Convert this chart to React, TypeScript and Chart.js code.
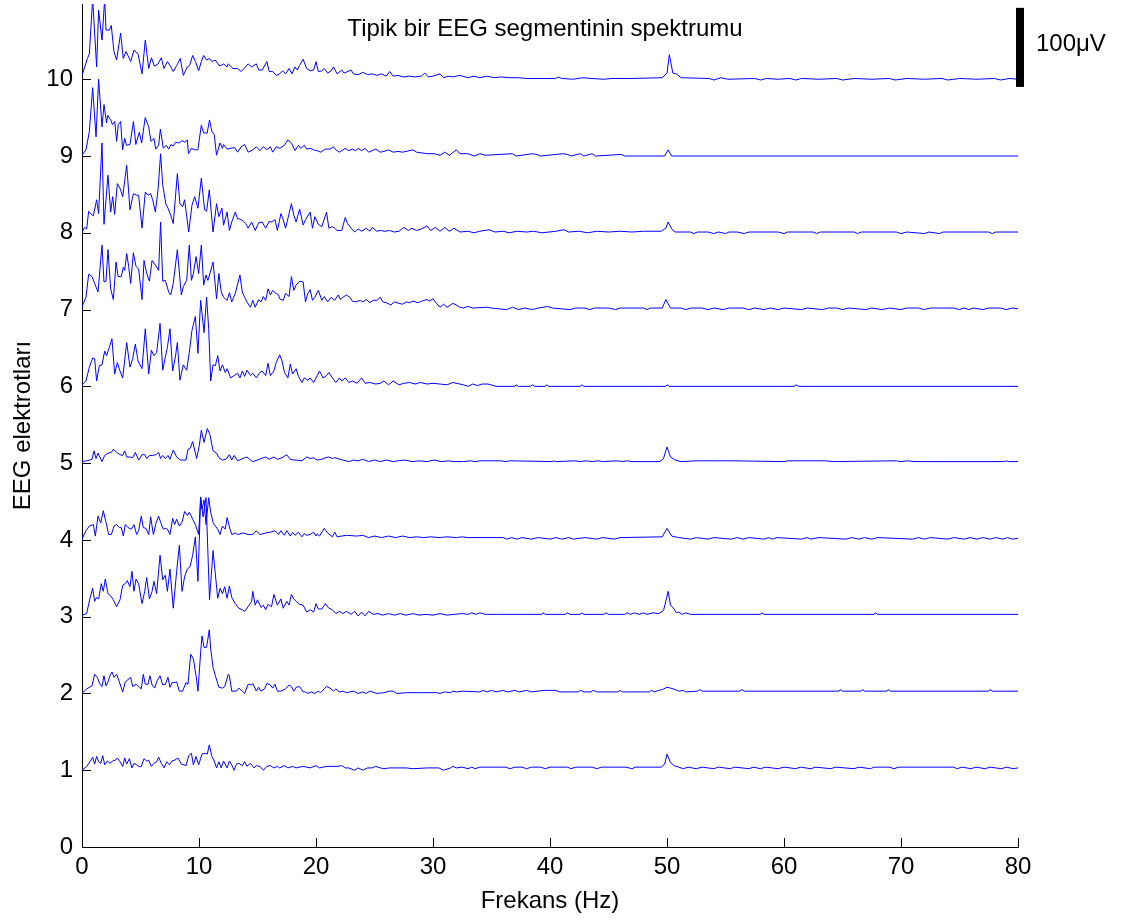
import React, { useEffect, useRef } from "react";
import { Chart, registerables } from "chart.js";

Chart.register(...registerables);

// ---------- texts ----------
const TITLE = "Tipik bir EEG segmentinin spektrumu";
const X_TITLE = "Frekans (Hz)";
const Y_TITLE = "EEG elektrotları";
const SCALE_LABEL = "100μV";

// ---------- axes ----------
const X_MIN = 0;
const X_MAX = 80;
const X_STEP = 10;
const Y_MIN = 0;
const Y_MAX = 10.98;
const Y_STEP = 1;
// scale bar (100 µV) in y-axis units
const SCALE_BAR_BOTTOM = 9.9;
const SCALE_BAR_TOP = 10.93;

// ---------- spectra: [frequency Hz, amplitude above the channel's baseline] ----------
const ch1: number[][] = [
  [0,0],[0.4,0.05],[0.68,0.11],[0.91,0.17],[1.08,0.08],[1.25,0.18],[1.42,0.11],[1.6,0.09],[1.77,0.19],[1.94,0.07],
  [2.17,0.12],[2.39,0.09],[2.62,0.12],[2.85,0.13],[3.02,0.16],[3.25,0.11],[3.48,0.05],[3.65,0.16],[3.82,0.08],[4.05,0.15],
  [4.27,0.03],[4.44,0.09],[4.67,0.07],[4.84,0.05],[5.07,0.05],[5.3,0.15],[5.53,0.12],[5.7,0.13],[5.93,0.05],[6.15,0.09],
  [6.38,0.11],[6.55,0.17],[6.78,0.09],[7.01,0.03],[7.24,0.11],[7.47,0.07],[7.69,0.12],[7.92,0.13],[8.2,0.16],[8.49,0.08],
  [8.72,0.07],[8.89,0.06],[9.12,0.19],[9.35,0.22],[9.52,0.07],[9.75,0.18],[9.97,0.07],[10.26,0.21],[10.54,0.22],[10.71,0.21],
  [10.88,0.33],[11.1,0.18],[11.3,0.12],[11.5,0.03],[11.7,0.11],[11.9,0.03],[12.1,0.12],[12.4,0.03],[12.6,0.12],[12.8,0.07],
  [13.0,0],[13.2,0.08],[13.4,0.09],[13.7,0.06],[13.9,0.11],[14.1,0.05],[14.4,0.09],[14.7,0.03],[14.9,0.06],[15.2,0.05],
  [15.5,0],[15.8,0.05],[16.1,0.06],[16.4,0.03],[16.7,0.05],[16.9,0.03],[17.3,0.06],[17.6,0.03],[18.0,0.05],[18.3,0.03],
  [18.9,0.05],[19.5,0.03],[20.0,0.06],[20.3,0.03],[20.9,0.05],[21.8,0.05],[22.2,0.06],[22.5,0.03],[22.8,0.03],[23.3,0],
  [23.6,0.03],[24.0,0],[24.4,0.03],[24.8,0.03],[25.1,0.05],[25.5,0.03],[25.8,0.02],[26.3,0.03],[26.7,0.03],[27.2,0.03],
  [27.7,0.03],[28.3,0.02],[29.5,0.03],[30.0,0.03],[30.5,0.03],[30.9,0],[31.5,0.03],[31.7,0.05],[32.0,0.03],
  [32.5,0.04],[33.0,0.02],[33.3,0.04],[33.6,0.02],[34.0,0.04],[36.2,0.04],[36.6,0.02],[37.0,0.04],[37.6,0.04],[38.0,0.02],
  [38.4,0.04],[39.2,0.04],[39.6,0.02],[40.0,0.04],[41.5,0.04],[41.8,0.02],[42.2,0.04],[43.6,0.04],[44.0,0.02],[44.4,0.04],
  [46.5,0.04],[47.0,0.02],[47.3,0.04],[49.5,0.04],[49.8,0.08],[50.0,0.21],[50.3,0.1],[50.6,0.06],[51.0,0.04],[51.4,0.02],
  [51.8,0.04],[52.5,0.02],[53.0,0.04],[54.0,0.02],[54.4,0.04],[55.4,0.02],[55.8,0.04],[57.0,0.02],[57.4,0.04],[58.0,0.02],
  [58.4,0.04],[59.5,0.02],[60.0,0.04],[61.0,0.02],[61.4,0.04],[62.3,0.02],[62.7,0.04],[64.0,0.02],[64.4,0.04],[66.0,0.02],
  [66.4,0.04],[67.4,0.02],[67.7,0.04],[69.0,0.04],[69.4,0.02],[69.8,0.04],[72.0,0.04],[74.5,0.04],[74.8,0.02],[75.2,0.04],
  [76.0,0.02],[76.4,0.04],[77.2,0.02],[77.6,0.04],[78.6,0.02],[79.0,0.04],[79.6,0.02],[80,0.03]
];

const ch2: number[][] = [
  [0,0],[0.4,0.06],[0.86,0.1],[1.08,0.25],[1.31,0.21],[1.54,0.12],[1.71,0.09],[1.88,0.23],[2.05,0.1],[2.22,0.15],
  [2.39,0.23],[2.56,0.28],[2.74,0.21],[2.96,0.25],[3.19,0.15],[3.48,0.02],[3.7,0.15],[3.93,0.18],[4.16,0.21],[4.33,0.09],
  [4.62,0.12],[4.84,0.09],[5.07,0.06],[5.24,0.25],[5.41,0.12],[5.64,0.12],[5.81,0.23],[5.99,0.11],[6.21,0.07],[6.44,0.17],
  [6.67,0.23],[6.9,0.11],[7.12,0.12],[7.35,0.21],[7.52,0.08],[7.69,0.14],[7.87,0.14],[8.09,0.15],[8.32,0.03],[8.6,0.03],
  [8.89,0.14],[9.06,0.12],[9.29,0.51],[9.52,0.45],[9.75,0.23],[9.91,0.03],[10.14,0.53],[10.26,0.75],[10.43,0.6],[10.65,0.6],
  [10.88,0.83],[11.0,0.58],[11.2,0.34],[11.4,0.23],[11.7,0.08],[12.0,0.07],[12.2,0.09],[12.5,0.25],[12.6,0.23],[12.8,0.03],
  [13.2,0.03],[13.4,0.07],[13.7,0.03],[13.9,0],[14.2,0.12],[14.5,0.11],[14.6,0.13],[14.9,0.03],[15.1,0.08],[15.3,0.03],
  [15.6,0.06],[15.8,0.13],[16.1,0.11],[16.3,0.07],[16.5,0.12],[16.7,0.03],[17.0,0.03],[17.4,0.06],[17.7,0.11],[17.9,0.09],
  [18.1,0.03],[18.3,0.08],[18.6,0.09],[18.9,0.02],[19.1,0.02],[19.3,0],[19.6,0.02],[19.9,0],[20.2,0.03],[20.4,0.01],
  [20.7,0.06],[20.9,0.09],[21.2,0.07],[21.5,0.03],[21.7,0.06],[22.0,0.02],[22.3,0.03],[22.6,0.01],[23.2,0.03],[23.6,0],
  [24.0,0.02],[24.3,0],[24.6,0.03],[25.2,0],[25.8,0.01],[26.3,0.03],[26.6,0.03],[26.9,0],[27.8,0.01],[28.9,0.01],
  [30.3,0.01],[30.6,0],[31.0,0.02],[31.5,0.01],[31.7,0.03],[32.0,0.02],
  [32.5,0.03],[34.0,0.02],[34.3,0.04],[34.6,0.02],[35.0,0.04],[35.4,0.02],[36.0,0.04],[36.4,0.02],[37.0,0.04],[37.4,0.02],
  [38.0,0.04],[38.4,0.02],[39.5,0.04],[40.5,0.04],[40.8,0.02],[41.3,0.02],[42.4,0.02],[42.6,0.04],[42.9,0.02],[43.5,0.02],
  [43.7,0.04],[44.0,0.02],[45.8,0.02],[46.0,0.04],[46.2,0.02],[48.5,0.02],[48.7,0.04],[48.9,0.02],[49.3,0.04],[49.6,0.05],
  [50.0,0.08],[50.3,0.07],[50.7,0.05],[51.0,0.03],[51.4,0.04],[51.6,0.02],[52.6,0.03],[52.8,0.05],[53.0,0.03],[56.2,0.03],
  [56.4,0.05],[56.6,0.03],[64.7,0.03],[64.8,0.05],[65.0,0.03],[66.6,0.03],[66.7,0.05],[66.9,0.03],[68.8,0.03],[68.9,0.05],
  [69.1,0.03],[77.5,0.03],[77.6,0.05],[77.8,0.03],[80,0.03]
];

const ch3: number[][] = [
  [0,0.02],[0.4,0.04],[0.68,0.24],[0.91,0.37],[1.08,0.2],[1.25,0.25],[1.42,0.23],[1.65,0.43],[1.82,0.33],[1.99,0.49],
  [2.22,0.3],[2.45,0.27],[2.68,0.22],[2.96,0.13],[3.25,0.22],[3.48,0.41],[3.7,0.43],[3.87,0.47],[4.1,0.39],[4.27,0.59],
  [4.44,0.33],[4.62,0.49],[4.84,0.43],[5.13,0.17],[5.36,0.33],[5.53,0.51],[5.76,0.23],[5.99,0.33],[6.15,0.46],[6.38,0.3],
  [6.67,0.8],[6.9,0.48],[7.12,0.54],[7.3,0.33],[7.52,0.62],[7.8,0.11],[8.09,0.59],[8.32,0.93],[8.55,0.33],[8.77,0.52],
  [9.0,0.62],[9.23,0.65],[9.46,0.8],[9.69,1.04],[9.91,0.46],[10.14,1.55],[10.35,1.3],[10.6,1.55],[10.9,0.22],[11.2,0.86],
  [11.6,0.24],[11.8,0.37],[12.0,0.3],[12.2,0.39],[12.4,0.24],[12.6,0.4],[12.8,0.25],[13.1,0.17],[13.4,0.11],[13.7,0.09],
  [13.9,0.07],[14.2,0.13],[14.5,0.2],[14.6,0.33],[14.8,0.15],[15.0,0.22],[15.3,0.12],[15.5,0.15],[15.7,0.09],[15.9,0.16],
  [16.2,0.13],[16.4,0.29],[16.7,0.15],[17.0,0.23],[17.2,0.11],[17.5,0.2],[17.7,0.15],[17.9,0.29],[18.1,0.23],[18.3,0.2],
  [18.6,0.16],[18.9,0.15],[19.2,0.06],[19.5,0.09],[19.8,0.06],[20.0,0.17],[20.2,0.1],[20.5,0.1],[20.8,0.17],[21.1,0.11],
  [21.4,0.09],[21.7,0.04],[22.0,0.07],[22.3,0.04],[22.6,0.07],[23.0,0.03],[23.3,0.07],[23.6,0.01],[23.9,0.06],[24.2,0.01],
  [24.5,0.07],[24.9,0.03],[25.3,0.04],[25.7,0.02],[26.2,0.04],[26.7,0.02],[27.2,0.04],[27.7,0.02],[28.3,0.04],[28.8,0.02],
  [29.4,0.03],[30.0,0.02],[30.6,0.04],[31.2,0.02],[31.8,0.03],
  [32.5,0.04],[33.0,0.03],[33.3,0.05],[33.7,0.03],[34.0,0.05],[34.5,0.03],[35.5,0.03],[39.3,0.03],[39.4,0.05],[39.6,0.03],
  [41.3,0.03],[41.5,0.05],[41.7,0.03],[42.6,0.03],[42.7,0.05],[42.9,0.03],[44.6,0.03],[44.8,0.05],[45.0,0.03],[46.4,0.03],
  [46.6,0.05],[46.9,0.03],[47.2,0.05],[47.6,0.03],[48.0,0.05],[48.3,0.03],[48.8,0.05],[49.3,0.04],[49.7,0.08],[49.9,0.2],
  [50.1,0.33],[50.3,0.15],[50.6,0.1],[50.8,0.05],[51.0,0.06],[51.3,0.03],[51.6,0.05],[52.0,0.03],[58.0,0.03],[58.1,0.05],
  [58.3,0.03],[67.7,0.03],[67.8,0.05],[68.0,0.03],[80,0.03]
];

const ch4: number[][] = [
  [0,0.01],[0.34,0.12],[0.63,0.18],[0.97,0.2],[1.14,0.05],[1.37,0.31],[1.6,0.22],[1.82,0.38],[2.05,0.23],[2.28,0.07],
  [2.51,0.07],[2.74,0.18],[2.96,0.2],[3.19,0.16],[3.36,0.16],[3.53,0.05],[3.7,0.2],[3.93,0.16],[4.22,0.14],[4.44,0.2],
  [4.67,0.07],[4.84,0.12],[5.07,0.31],[5.24,0.16],[5.47,0.15],[5.7,0.07],[5.87,0.3],[6.1,0.07],[6.33,0.22],[6.55,0.31],
  [6.72,0.23],[6.95,0.14],[7.12,0.15],[7.3,0.14],[7.52,0.07],[7.75,0.28],[7.92,0.2],[8.09,0.27],[8.32,0.18],[8.55,0.23],
  [8.77,0.37],[9.0,0.32],[9.17,0.36],[9.46,0.27],[9.69,0.2],[9.97,0.07],[10.14,0.56],[10.26,0.4],[10.43,0.52],[10.6,0.2],
  [10.83,0.55],[11.0,0.36],[11.2,0.23],[11.3,0.2],[11.6,0.14],[11.8,0.07],[12.0,0.18],[12.25,0.14],[12.4,0.29],[12.65,0.14],
  [12.8,0.07],[13.1,0.09],[13.3,0.07],[13.8,0.09],[14.2,0.07],[14.6,0.07],[14.9,0.12],[15.2,0.07],[15.7,0.09],[16.1,0.1],
  [16.5,0.12],[16.8,0.07],[17.0,0.12],[17.3,0.06],[17.5,0.12],[17.8,0.05],[18.0,0.1],[18.2,0.06],[18.5,0.1],[18.8,0.04],
  [19.0,0.08],[19.2,0.06],[19.5,0.07],[19.8,0.1],[20.0,0.05],[20.1,0.08],[20.3,0.05],[20.7,0.15],[21.0,0.09],[21.4,0.04],
  [21.6,0.1],[21.8,0.04],[22.6,0.06],[23.5,0.05],[24.0,0.06],[24.5,0.03],[25.0,0.05],[25.6,0.03],[26.2,0.05],[26.8,0.03],
  [27.4,0.05],[28.0,0.03],[28.6,0.04],[29.2,0.03],[29.8,0.04],[30.5,0.03],[31.2,0.04],[32.0,0.03],
  [32.5,0.04],[33.0,0.03],[36.0,0.03],[36.3,0.01],[36.7,0.03],[37.2,0.01],[37.6,0.03],[38.4,0.01],[39.0,0.03],[40.0,0.01],
  [40.5,0.03],[41.0,0.01],[41.6,0.03],[42.0,0.01],[43.0,0.03],[44.0,0.01],[44.5,0.03],[45.5,0.01],[46.0,0.03],[49.6,0.04],
  [50.0,0.15],[50.4,0.05],[51.0,0.03],[52.0,0.01],[52.5,0.03],[53.5,0.01],[54.0,0.03],[55.5,0.01],[56.0,0.03],[56.5,0.01],
  [57.0,0.03],[58.3,0.01],[58.7,0.03],[59.0,0.01],[59.4,0.03],[61.5,0.01],[62.0,0.03],[62.3,0.01],[63.0,0.03],[65.3,0.01],
  [65.8,0.03],[66.4,0.01],[66.9,0.03],[67.5,0.01],[68.0,0.03],[71.0,0.01],[71.5,0.03],[72.0,0.01],[72.5,0.03],[74.0,0.01],
  [74.5,0.03],[75.4,0.01],[75.9,0.03],[76.5,0.01],[77.0,0.03],[77.6,0.01],[78.1,0.03],[78.7,0.01],[79.1,0.03],[79.5,0.01],[80,0.02]
];

const ch5: number[][] = [
  [0,0.02],[0.4,0.03],[0.63,0.04],[0.86,0.05],[1.03,0.16],[1.2,0.06],[1.37,0.13],[1.71,0.02],[1.94,0.1],[2.22,0.13],
  [2.51,0.14],[2.68,0.18],[2.96,0.14],[3.25,0.11],[3.48,0.1],[3.65,0.16],[3.82,0.08],[4.1,0.08],[4.33,0.07],[4.56,0.14],
  [4.84,0.04],[5.13,0.11],[5.36,0.11],[5.53,0.06],[5.76,0.1],[6.04,0.1],[6.33,0.11],[6.55,0.14],[6.72,0.06],[6.9,0.1],
  [7.12,0.06],[7.35,0.1],[7.52,0.05],[7.8,0.17],[8.09,0.08],[8.43,0.04],[8.89,0.04],[9.06,0.18],[9.23,0.19],[9.46,0.28],
  [9.8,0.06],[10.03,0.23],[10.2,0.43],[10.43,0.27],[10.71,0.45],[10.94,0.37],[11.2,0.16],[11.5,0.13],[11.7,0.07],[12.0,0.04],
  [12.3,0.05],[12.6,0.11],[12.8,0.04],[13.0,0.1],[13.3,0.03],[13.6,0.05],[13.9,0.07],[14.1,0.08],[14.4,0.04],[14.6,0.02],
  [15.0,0.04],[15.3,0.06],[15.7,0.08],[16.0,0.05],[16.4,0.08],[16.7,0.05],[17.1,0.07],[17.5,0.11],[17.8,0.05],[18.1,0.04],
  [18.3,0.04],[18.8,0.03],[19.2,0.08],[19.5,0.06],[19.8,0.07],[20.1,0.04],[20.5,0.05],[20.8,0.07],[21.1,0.08],[21.4,0.06],
  [21.6,0.07],[22.3,0.04],[22.8,0.02],[23.2,0.04],[23.6,0.03],[24.0,0.05],[24.5,0.02],[25.0,0.04],[25.5,0.02],[26.0,0.04],
  [26.6,0.02],[27.0,0.03],[27.6,0.04],[28.2,0.02],[28.8,0.03],[29.5,0.02],[30.1,0.04],[30.7,0.02],[31.3,0.03],[31.8,0.02],
  [32.6,0.02],[33.2,0.03],[33.6,0.02],[34.0,0.03],[35.8,0.03],[36.2,0.02],[36.6,0.03],[40.2,0.02],[40.3,0.03],[40.5,0.02],
  [42.2,0.03],[42.6,0.02],[43.1,0.03],[43.6,0.02],[44.1,0.03],[44.5,0.02],[45.8,0.03],[46.2,0.02],[46.6,0.03],[47.0,0.02],
  [49.4,0.02],[49.7,0.06],[50.0,0.21],[50.3,0.08],[50.7,0.04],[51.2,0.02],[52.5,0.03],[54.2,0.03],[55.7,0.03],[60.0,0.02],
  [60.3,0.03],[61.0,0.03],[63.5,0.03],[64.3,0.02],[69.6,0.03],[70.0,0.02],[70.5,0.03],[71.2,0.02],[78.8,0.02],[79.0,0.03],
  [79.2,0.02],[80,0.02]
];

const ch6: number[][] = [
  [0,0.02],[0.34,0.07],[0.63,0.25],[0.91,0.37],[1.08,0.36],[1.25,0.07],[1.48,0.27],[1.71,0.28],[1.94,0.46],[2.1,0.4],
  [2.34,0.51],[2.56,0.62],[2.79,0.16],[3.02,0.31],[3.25,0.2],[3.48,0.11],[3.82,0.57],[4.1,0.25],[4.33,0.36],[4.56,0.55],
  [4.79,0.33],[5.13,0.23],[5.41,0.75],[5.7,0.16],[5.93,0.47],[6.15,0.4],[6.38,0.44],[6.67,0.82],[6.9,0.21],[7.12,0.38],
  [7.3,0.51],[7.52,0.75],[7.75,0.2],[7.98,0.38],[8.15,0.57],[8.37,0.08],[8.66,0.28],[8.95,0.21],[9.17,0.44],[9.4,0.73],
  [9.69,0.91],[9.91,0.43],[10.14,1.12],[10.43,0.7],[10.65,1.16],[10.83,0.75],[11.0,0.07],[11.2,0.28],[11.4,0.27],[11.6,0.4],
  [11.8,0.2],[12.0,0.28],[12.25,0.18],[12.4,0.23],[12.7,0.11],[13.0,0.14],[13.3,0.17],[13.5,0.11],[13.7,0.2],[13.9,0.13],
  [14.1,0.21],[14.4,0.14],[14.6,0.17],[14.9,0.11],[15.2,0.18],[15.4,0.2],[15.7,0.14],[15.9,0.3],[16.1,0.14],[16.4,0.2],
  [16.6,0.31],[16.9,0.41],[17.1,0.33],[17.3,0.18],[17.6,0.11],[17.8,0.29],[18.0,0.16],[18.3,0.23],[18.5,0.13],[18.8,0.05],
  [19.0,0.11],[19.3,0.08],[19.5,0.11],[19.8,0.05],[20.1,0.14],[20.3,0.2],[20.6,0.11],[20.9,0.14],[21.1,0.18],[21.4,0.11],
  [21.7,0.05],[22.0,0.11],[22.2,0.07],[22.5,0.11],[22.8,0.05],[23.1,0.07],[23.5,0.04],[23.9,0.11],[24.2,0.04],[24.6,0.05],
  [25.1,0.03],[25.5,0.04],[25.8,0.07],[26.2,0.02],[26.6,0.07],[27.1,0.02],[27.5,0.04],[28.0,0.05],[28.5,0.03],[28.9,0.05],
  [29.5,0.03],[30.0,0.04],[30.6,0.03],[31.2,0.02],[31.7,0.05],
  [32.6,0.02],[33.0,0.0],[33.4,0.03],[33.8,0.01],[34.2,0.03],[34.7,0.03],[35.4,0.0],[37.0,0.0],[37.1,0.02],[37.3,0.0],
  [38.3,0.0],[38.5,0.02],[38.7,0.0],[39.6,0.0],[39.7,0.02],[39.9,0.0],[42.6,0.0],[42.7,0.02],[42.9,0.0],[49.9,0.0],
  [50.0,0.02],[50.2,0.0],[60.9,0.0],[61.0,0.02],[61.3,0.0],[80,0.0]
];

const ch7: number[][] = [
  [0,0.04],[0.34,0.16],[0.57,0.46],[0.86,0.43],[1.08,0.34],[1.37,0.23],[1.71,0.84],[1.88,0.36],[2.05,0.37],[2.22,0.78],
  [2.45,0.27],[2.68,0.13],[2.91,0.62],[3.08,0.43],[3.36,0.43],[3.53,0.55],[3.65,0.51],[3.82,0.73],[3.99,0.56],[4.16,0.34],
  [4.39,0.74],[4.62,0.56],[4.84,0.53],[5.13,0.13],[5.3,0.64],[5.53,0.47],[5.76,0.37],[5.99,0.64],[6.27,0.58],[6.55,0.51],
  [6.72,1.14],[6.9,0.37],[7.12,0.38],[7.41,0.23],[7.58,0.19],[7.8,0.34],[8.15,0.78],[8.49,0.19],[8.66,0.3],[8.95,0.38],
  [9.17,0.84],[9.35,0.38],[9.52,0.47],[9.75,0.69],[9.97,0.47],[10.2,0.84],[10.4,0.32],[10.6,0.45],[10.76,0.38],[10.9,0.45],
  [11.2,0.62],[11.5,0.14],[11.7,0.47],[11.9,0.23],[12.1,0.16],[12.4,0.12],[12.6,0.22],[12.8,0.1],[13.1,0.21],[13.5,0.45],
  [13.7,0.23],[13.9,0.16],[14.1,0.1],[14.4,0.03],[14.6,0.12],[14.8,0.03],[15.1,0.13],[15.3,0.1],[15.5,0.17],[15.7,0.12],
  [15.9,0.27],[16.1,0.19],[16.3,0.25],[16.5,0.22],[16.8,0.19],[16.9,0.14],[17.2,0.12],[17.4,0.21],[17.7,0.17],[17.9,0.43],
  [18.1,0.25],[18.3,0.32],[18.6,0.37],[18.9,0.36],[19.1,0.1],[19.3,0.21],[19.5,0.26],[19.7,0.12],[19.9,0.16],[20.2,0.25],
  [20.5,0.12],[20.7,0.17],[21.0,0.1],[21.3,0.16],[21.6,0.12],[21.9,0.19],[22.1,0.13],[22.3,0.16],[22.6,0.19],[22.9,0.16],
  [23.1,0.11],[23.4,0.1],[23.8,0.12],[24.0,0.1],[24.3,0.13],[24.6,0.09],[24.9,0.12],[25.2,0.12],[25.5,0.16],[25.7,0.1],
  [26.0,0.09],[26.4,0.06],[26.7,0.1],[27.1,0.08],[27.4,0.07],[27.7,0.1],[28.0,0.09],[28.3,0.11],[28.7,0.09],[28.9,0.1],
  [29.2,0.12],[29.5,0.13],[29.7,0.11],[30.0,0.14],[30.3,0.08],[30.6,0.03],[30.9,0.07],[31.2,0.03],[31.5,0.06],[31.7,0.08],
  [32.0,0.06],[32.3,0.03],
  [32.6,0.02],[33.0,0.04],[33.4,0.02],[34.6,0.03],[35.0,0.02],[36.3,0.0],[36.8,0.03],[37.3,0.0],[37.8,0.02],[38.5,0.0],
  [39.0,0.02],[39.8,0.04],[40.2,0.02],[41.7,0.0],[42.2,0.02],[43.0,0.02],[43.4,0.0],[43.8,0.02],[45.0,0.02],[45.6,0.0],
  [46.0,0.02],[48.0,0.02],[48.3,0.0],[48.6,0.02],[49.6,0.02],[49.9,0.13],[50.3,0.02],[51.2,0.02],[51.6,0.0],[52.1,0.02],
  [53.0,0.02],[53.5,0.0],[54.0,0.02],[54.8,0.0],[55.3,0.02],[56.5,0.02],[57.0,0.0],[57.5,0.02],[58.3,0.0],[58.8,0.02],
  [59.5,0.0],[60.0,0.02],[61.5,0.0],[62.0,0.02],[63.3,0.0],[63.8,0.02],[64.5,0.02],[65.0,0.0],[65.5,0.02],[67.0,0.0],
  [67.5,0.02],[68.4,0.0],[69.0,0.02],[70.0,0.0],[70.5,0.02],[71.5,0.02],[72.0,0.0],[72.5,0.02],[74.5,0.02],[75.0,0.0],
  [75.4,0.02],[75.8,0.0],[76.2,0.02],[77.0,0.0],[77.5,0.02],[78.5,0.02],[79.0,0.0],[79.5,0.02],[80,0.01]
];

const ch8: number[][] = [
  [0,0.01],[0.23,0.07],[0.4,0.05],[0.57,0.28],[0.8,0.24],[0.97,0.22],[1.25,0.43],[1.42,0.25],[1.71,1.17],[1.88,0.11],
  [2.22,0.75],[2.45,0.27],[2.62,0.47],[2.79,0.24],[3.02,0.64],[3.25,0.58],[3.48,0.47],[3.82,0.88],[4.1,0.3],[4.39,0.51],
  [4.67,0.49],[4.84,0.49],[5.13,0.06],[5.41,0.53],[5.64,0.49],[5.87,0.51],[6.04,0.43],[6.27,0.27],[6.5,0.56],[6.72,1.03],
  [6.9,0.62],[7.18,0.37],[7.35,0.32],[7.58,0.23],[7.8,0.12],[8.15,0.77],[8.37,0.38],[8.6,0.34],[8.77,0.43],[9.12,0.01],
  [9.4,0.36],[9.63,0.47],[9.91,0.32],[10.2,0.71],[10.48,0.3],[10.65,0.28],[10.88,0.56],[11.2,0.01],[11.5,0.38],[11.7,0.21],
  [11.96,0.32],[12.1,0.1],[12.4,0.27],[12.6,0.03],[12.8,0.14],[13.1,0.27],[13.3,0.18],[13.5,0.18],[13.8,0.15],[14.0,0.12],
  [14.2,0.06],[14.5,0.14],[14.8,0.03],[15.1,0.13],[15.4,0.14],[15.7,0.06],[16.0,0.15],[16.2,0.14],[16.5,0.17],[16.7,0.03],
  [17.0,0.25],[17.2,0.17],[17.4,0.06],[17.7,0.25],[17.9,0.38],[18.1,0.23],[18.3,0.14],[18.6,0.31],[18.9,0.1],[19.1,0.17],
  [19.5,0.27],[19.7,0.06],[19.9,0.21],[20.2,0.11],[20.5,0.08],[20.9,0.27],[21.1,0.06],[21.4,0.08],[21.6,0.06],[21.8,0.03],
  [22.2,0.03],[22.5,0.2],[22.7,0.12],[23.0,0.06],[23.3,0.01],[23.6,0.05],[23.9,0.02],[24.3,0.06],[24.6,0.02],[24.8,0.07],
  [25.2,0.02],[25.5,0.03],[25.9,0.02],[26.3,0.03],[26.7,0.01],[27.1,0.02],[27.5,0.07],[27.9,0.03],[28.2,0.06],[28.6,0.03],
  [29.0,0.05],[29.5,0.09],[29.8,0.03],[30.2,0.07],[30.6,0.02],[31.0,0.07],[31.4,0.02],[31.8,0.06],[32.3,0.01],
  [33.0,0.02],[33.5,0.0],[34.0,0.02],[34.8,0.04],[35.3,0.01],[36.0,0.02],[36.5,0.0],[37.2,0.02],[38.0,0.01],[38.6,0.02],
  [39.3,0.0],[40.5,0.02],[41.2,0.04],[41.6,0.01],[42.5,0.02],[43.2,0.0],[44.0,0.02],[45.0,0.01],[46.0,0.02],[47.0,0.01],
  [48.0,0.02],[49.5,0.02],[49.9,0.06],[50.1,0.14],[50.4,0.05],[50.7,0.01],[52.0,0.01],[52.3,-0.01],[52.6,0.01],[53.5,0.01],
  [54.0,-0.01],[54.4,0.01],[55.0,-0.01],[55.3,0.01],[56.0,0.01],[56.6,-0.01],[57.0,0.01],[59.5,0.01],[60.0,-0.01],[60.3,0.01],
  [62.5,0.01],[62.8,-0.01],[63.1,0.01],[66.0,0.01],[66.3,-0.01],[66.6,0.01],[69.6,0.01],[70.0,-0.01],[70.5,0.01],[72.0,-0.01],
  [72.4,0.01],[73.3,-0.01],[73.6,0.01],[77.5,0.01],[77.8,-0.01],[78.1,0.01],[80,0.01]
];

const ch9: number[][] = [
  [0,0.01],[0.34,0.08],[0.63,0.32],[0.91,0.89],[1.2,0.25],[1.42,1.0],[1.71,0.38],[1.88,0.67],[2.1,0.43],[2.2,0.53],
  [2.45,0.47],[2.6,0.41],[2.8,0.45],[2.96,0.19],[3.1,0.41],[3.3,0.45],[3.47,0.08],[3.65,0.23],[3.8,0.14],[4.1,0.15],
  [4.4,0.45],[4.6,0.15],[4.9,0.31],[5.1,0.17],[5.4,0.5],[5.7,0.38],[5.9,0.19],[6.15,0.23],[6.3,0.09],[6.55,0.14],
  [6.7,0.35],[6.95,0.1],[7.2,0.14],[7.4,0.09],[7.6,0.15],[7.8,0.13],[8.0,0.18],[8.3,0.17],[8.55,0.2],[8.8,0.18],
  [9.0,0.21],[9.1,0.03],[9.35,0.1],[9.7,0.08],[9.9,0.08],[10.2,0.4],[10.4,0.3],[10.7,0.3],[10.9,0.47],[11.1,0.32],
  [11.3,0.28],[11.5,0.01],[11.8,0.17],[12.0,0.1],[12.1,0.15],[12.4,0.09],[12.65,0.1],[13.05,0.11],[13.3,0.05],[13.6,0.12],
  [13.9,0.15],[14.2,0.05],[14.6,0.08],[14.9,0.12],[15.2,0.07],[15.5,0.12],[15.8,0.08],[16.1,0.12],[16.3,0.05],[16.6,0.12],
  [16.9,0.1],[17.3,0.14],[17.6,0.21],[17.9,0.17],[18.2,0.07],[18.5,0.14],[18.7,0.1],[19.0,0.14],[19.2,0.09],[19.5,0.1],
  [19.8,0.08],[20.1,0.07],[20.4,0.05],[20.8,0.09],[21.2,0.09],[21.5,0.12],[21.7,0.08],[22.0,0.05],[22.5,0.1],[22.8,0.07],
  [23.1,0.09],[23.4,0.07],[23.6,0.1],[23.9,0.07],[24.2,0.1],[24.5,0.05],[24.8,0.07],[25.1,0.09],[25.5,0.05],[25.8,0.06],
  [26.2,0.08],[26.6,0.05],[27.0,0.06],[27.4,0.05],[28.3,0.08],[28.6,0.05],[29.5,0.03],[30.1,0.03],[30.6,0.01],[31.0,0.05],
  [31.4,0.01],[32.0,0.08],[32.3,0.03],
  [33.0,0.03],[33.5,0.0],[34.0,0.03],[34.5,0.01],[36.8,0.03],[37.1,0.0],[38.5,0.03],[38.9,0.02],[39.2,0.0],[41.1,0.03],
  [41.5,0.02],[41.8,0.0],[42.6,0.03],[42.9,0.0],[43.6,0.03],[43.9,0.0],[46.1,0.02],[46.4,0.0],[49.8,0.0],[50.1,0.08],
  [50.4,0.0],[80,0.0]
];

const ch10: number[][] = [
  [0,0.05],[0.46,0.27],[0.63,0.33],[0.91,1.05],[1.25,0.16],[1.42,0.9],[1.71,0.51],[1.94,1.05],[2.05,0.64],[2.34,0.64],
  [2.5,0.7],[2.73,0.36],[2.96,0.25],[3.3,0.6],[3.53,0.27],[3.76,0.36],[3.99,0.29],[4.16,0.23],[4.44,0.38],[4.79,0.33],
  [5.13,0.07],[5.41,0.51],[5.7,0.14],[5.93,0.28],[6.2,0.17],[6.5,0.2],[6.78,0.28],[7.0,0.14],[7.3,0.23],[7.6,0.16],
  [7.8,0.1],[8.1,0.18],[8.4,0.27],[8.66,0.05],[9.0,0.16],[9.2,0.18],[9.46,0.31],[9.7,0.23],[9.97,0.11],[10.2,0.23],
  [10.4,0.31],[10.65,0.25],[10.9,0.27],[11.1,0.23],[11.4,0.25],[11.7,0.18],[11.9,0.18],[12.1,0.2],[12.4,0.16],[12.5,0.2],
  [12.9,0.14],[13.3,0.14],[13.6,0.1],[13.96,0.16],[14.2,0.2],[14.5,0.16],[14.9,0.2],[15.1,0.12],[15.4,0.12],[15.8,0.23],
  [16.0,0.1],[16.3,0.1],[16.6,0.05],[16.9,0.07],[17.15,0.11],[17.4,0.07],[17.7,0.14],[17.95,0.07],[18.2,0.16],[18.4,0.12],
  [18.6,0.18],[18.9,0.26],[19.2,0.14],[19.5,0.11],[19.8,0.12],[20.0,0.23],[20.2,0.1],[20.5,0.11],[20.7,0.14],[21.0,0.08],
  [21.3,0.11],[21.5,0.16],[21.8,0.07],[22.2,0.12],[22.4,0.08],[23.0,0.12],[23.2,0.07],[23.6,0.06],[24.0,0.09],[24.4,0.06],
  [24.8,0.07],[25.2,0.05],[25.6,0.07],[26.0,0.04],[26.3,0.1],[26.6,0.04],[27.0,0.05],[27.5,0.03],[28.0,0.04],[28.5,0.03],
  [29.0,0.04],[29.3,0.08],[29.6,0.03],[30.0,0.04],[30.6,0.07],[30.9,0.02],[31.3,0.04],[31.7,0.03],[32.3,0.05],
  [33.0,0.02],[33.5,0.04],[34.0,0.02],[34.6,0.04],[35.2,0.02],[35.8,0.03],[36.5,0.02],[37.3,0.02],[38.0,0.01],[40.5,0.01],
  [40.7,0.03],[41.0,0.01],[42.0,0.0],[42.8,0.02],[43.5,0.01],[44.6,0.0],[45.3,0.01],[47.0,0.01],[49.6,0.02],[50.0,0.08],
  [50.2,0.32],[50.5,0.08],[50.8,0.07],[51.2,0.02],[53.6,0.01],[54.0,-0.01],[54.6,0.02],[55.2,0.0],[57.5,0.01],[58.0,-0.01],
  [58.5,0.01],[59.5,0.0],[60.5,0.01],[61.0,-0.01],[61.5,0.01],[63.0,0.0],[64.5,0.01],[65.0,-0.01],[66.0,0.01],[67.5,0.0],
  [69.0,0.01],[69.5,-0.01],[70.5,0.01],[72.0,0.0],[73.5,0.01],[74.0,-0.01],[75.0,0.01],[76.5,0.0],[78.0,0.01],[78.5,-0.01],
  [79.3,0.01],[80,0.0]
];

const CHANNELS = [ch1, ch2, ch3, ch4, ch5, ch6, ch7, ch8, ch9, ch10];

const FONT = { family: '"Liberation Sans", Arial, Helvetica, sans-serif', size: 24 };
const FONT_CSS = '24px "Liberation Sans", Arial, Helvetica, sans-serif';
const LINE_COLOR = "#0000ff";

const decorPlugin = {
  id: "decor",
  afterDraw(chart: any) {
    const { ctx, chartArea, scales } = chart;
    const x = scales.x;
    const y = scales.y;
    ctx.save();
    // inward tick marks
    ctx.strokeStyle = "#000";
    ctx.lineWidth = 1;
    ctx.beginPath();
    x.ticks.forEach((t: any) => {
      const px = Math.round(x.getPixelForValue(t.value)) + 0.5;
      ctx.moveTo(px, chartArea.bottom);
      ctx.lineTo(px, chartArea.bottom - 9);
    });
    y.ticks.forEach((t: any) => {
      const py = Math.round(y.getPixelForValue(t.value)) + 0.5;
      ctx.moveTo(chartArea.left, py);
      ctx.lineTo(chartArea.left + 9, py);
    });
    ctx.stroke();
    // title inside the axes
    ctx.fillStyle = "#000";
    ctx.font = FONT_CSS;
    ctx.textAlign = "center";
    ctx.textBaseline = "alphabetic";
    ctx.fillText(TITLE, (chartArea.left + chartArea.right) / 2 - 5, 36);
    // 100 µV scale bar
    const top = y.getPixelForValue(SCALE_BAR_TOP);
    const bottom = y.getPixelForValue(SCALE_BAR_BOTTOM);
    ctx.fillRect(chartArea.right - 2, top, 8, bottom - top);
    ctx.textAlign = "left";
    ctx.fillText(SCALE_LABEL, chartArea.right + 18, 51);
    ctx.restore();
  },
};

export default function App() {
  const canvasRef = useRef<HTMLCanvasElement | null>(null);

  useEffect(() => {
    const canvas = canvasRef.current;
    if (!canvas) return;
    const datasets = CHANNELS.map((pts, i) => ({
      label: `Kanal ${i + 1}`,
      data: pts.map(([f, v]) => ({ x: f, y: v + i + 1 })),
      borderColor: LINE_COLOR,
      borderWidth: 1,
      pointRadius: 0,
      tension: 0,
      fill: false,
    }));
    const chart = new Chart(canvas, {
      type: "line",
      data: { datasets },
      options: {
        responsive: false,
        animation: false,
        devicePixelRatio: 1,
        layout: { padding: { left: 0, right: 107, top: 4, bottom: 0 } },
        plugins: {
          legend: { display: false },
          tooltip: { enabled: false },
          title: { display: false },
        },
        scales: {
          x: {
            type: "linear",
            min: X_MIN,
            max: X_MAX,
            ticks: { stepSize: X_STEP, font: FONT, color: "#000", padding: 6, maxRotation: 0 },
            grid: { display: false, drawTicks: false },
            border: { display: true, color: "#000", width: 1 },
            title: { display: true, text: X_TITLE, font: FONT, color: "#000", padding: { top: 0, bottom: 4 } },
            afterFit: (s: any) => {
              s.height = 73;
              s.paddingLeft = 0;
              s.paddingRight = 0;
            },
          },
          y: {
            type: "linear",
            min: Y_MIN,
            max: Y_MAX,
            ticks: { stepSize: Y_STEP, includeBounds: false, font: FONT, color: "#000", padding: 9 },
            grid: { display: false, drawTicks: false },
            border: { display: true, color: "#000", width: 1 },
            title: { display: true, text: Y_TITLE, font: FONT, color: "#000", padding: { top: 9, bottom: 0 } },
            afterFit: (s: any) => {
              s.width = 82;
              s.paddingTop = 0;
              s.paddingBottom = 0;
            },
          },
        },
      } as any,
      plugins: [decorPlugin],
    });
    return () => chart.destroy();
  }, []);

  return (
    <div style={{ position: "fixed", left: 0, top: 0, width: 1125, height: 920, background: "#fff" }}>
      <canvas ref={canvasRef} width={1125} height={920} style={{ width: 1125, height: 920, display: "block" }} />
    </div>
  );
}
